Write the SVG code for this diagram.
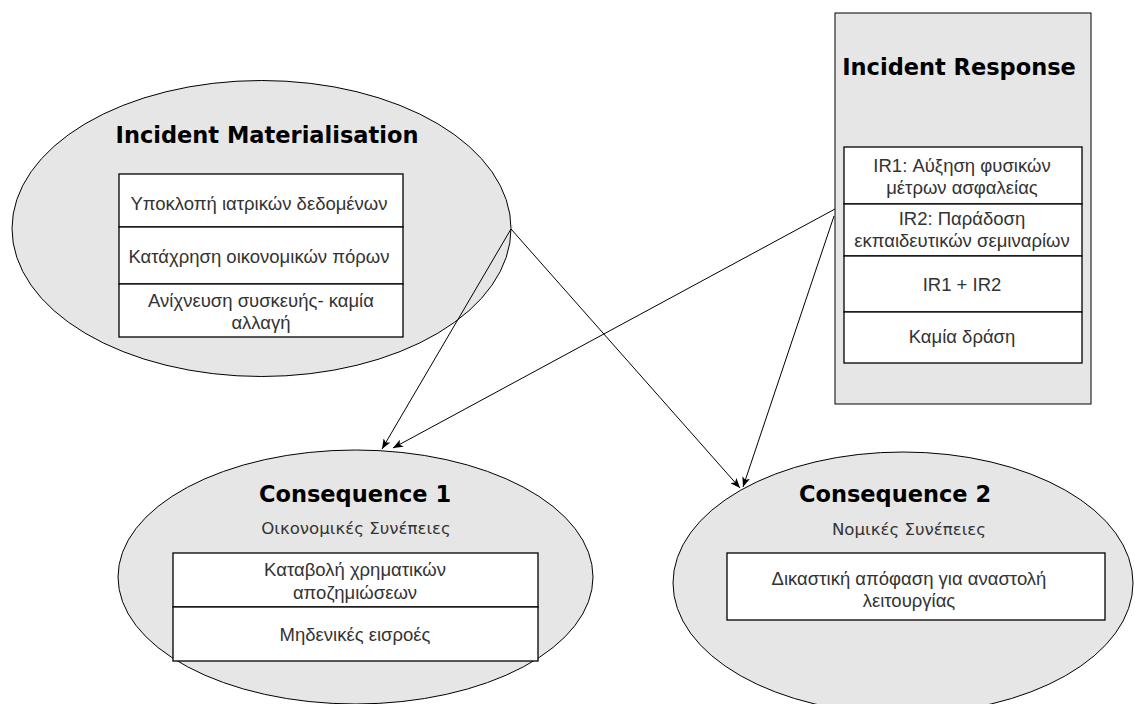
<svg xmlns="http://www.w3.org/2000/svg" width="1135" height="704" viewBox="0 0 1135 704">
<defs>
<style>
.shape{fill:#e6e6e6;stroke:#000;stroke-width:1}
.cell{fill:#fff;stroke:#000;stroke-width:1.3}
.title{font-family:"DejaVu Sans",Verdana,sans-serif;font-weight:bold;font-size:22.5px;fill:#000;text-anchor:middle}
.sub{font-family:"DejaVu Sans",Verdana,sans-serif;font-size:16.6px;fill:#333;text-anchor:middle}
.t{font-family:"Liberation Sans",Arial,sans-serif;font-size:18.5px;fill:#333;text-anchor:middle}
.conn{stroke:#000;stroke-width:1;fill:none;marker-end:url(#arr)}
</style>
<marker id="arr" viewBox="0 0 10 8" refX="10" refY="4" markerWidth="10" markerHeight="8" markerUnits="userSpaceOnUse" orient="auto">
<path d="M0,0 L10,4 L0,8 L2.5,4 Z" fill="#000"/>
</marker>
</defs>
<rect width="1135" height="704" fill="#fff"/>
<g id="incident-materialisation">
<ellipse class="shape" cx="261.5" cy="228.5" rx="249.5" ry="148"/>
<text class="title" x="267" y="143">Incident Materialisation</text>
<rect class="cell" x="119" y="174" width="284" height="53"/>
<rect class="cell" x="119" y="227" width="284" height="57"/>
<rect class="cell" x="119" y="284" width="284" height="53"/>
<text class="t" x="259" y="210">Υποκλοπή ιατρικών δεδομένων</text>
<text class="t" x="259" y="263">Κατάχρηση οικονομικών πόρων</text>
<text class="t" x="261" y="307">Ανίχνευση συσκευής- καμία</text>
<text class="t" x="261" y="329">αλλαγή</text>
</g>
<g id="incident-response">
<rect class="shape" x="835" y="13" width="256" height="391"/>
<text class="title" x="959" y="75">Incident Response</text>
<rect class="cell" x="844" y="147" width="238" height="57"/>
<rect class="cell" x="844" y="204" width="238" height="52"/>
<rect class="cell" x="844" y="256" width="238" height="56"/>
<rect class="cell" x="844" y="312" width="238" height="51"/>
<text class="t" x="962" y="172">IR1: Αύξηση φυσικών</text>
<text class="t" x="962" y="194">μέτρων ασφαλείας</text>
<text class="t" x="962" y="225">IR2: Παράδοση</text>
<text class="t" x="962" y="247">εκπαιδευτικών σεμιναρίων</text>
<text class="t" x="962" y="291">IR1 + IR2</text>
<text class="t" x="962" y="343">Καμία δράση</text>
</g>
<g id="consequence-1">
<ellipse class="shape" cx="355.5" cy="577" rx="237.5" ry="127"/>
<text class="title" x="355" y="502">Consequence 1</text>
<text class="sub" x="356" y="534">Οικονομικές Συνέπειες</text>
<rect class="cell" x="173" y="553" width="365" height="54"/>
<rect class="cell" x="173" y="607" width="365" height="54"/>
<text class="t" x="355" y="576">Καταβολή χρηματικών</text>
<text class="t" x="355" y="599">αποζημιώσεων</text>
<text class="t" x="355" y="641">Μηδενικές εισροές</text>
</g>
<g id="consequence-2">
<ellipse class="shape" cx="903" cy="583" rx="230" ry="131"/>
<text class="title" x="895" y="502">Consequence 2</text>
<text class="sub" x="909" y="535">Νομικές Συνέπειες</text>
<rect class="cell" x="727" y="553" width="378" height="67"/>
<text class="t" x="909" y="585">Δικαστική απόφαση για αναστολή</text>
<text class="t" x="909" y="607">λειτουργίας</text>
</g>
<g id="connectors">
<line class="conn" x1="511" y1="229" x2="382" y2="449"/>
<line class="conn" x1="511" y1="229" x2="740" y2="488"/>
<line class="conn" x1="835" y1="209" x2="393" y2="448"/>
<line class="conn" x1="834" y1="216" x2="743" y2="487"/>
</g>
</svg>
